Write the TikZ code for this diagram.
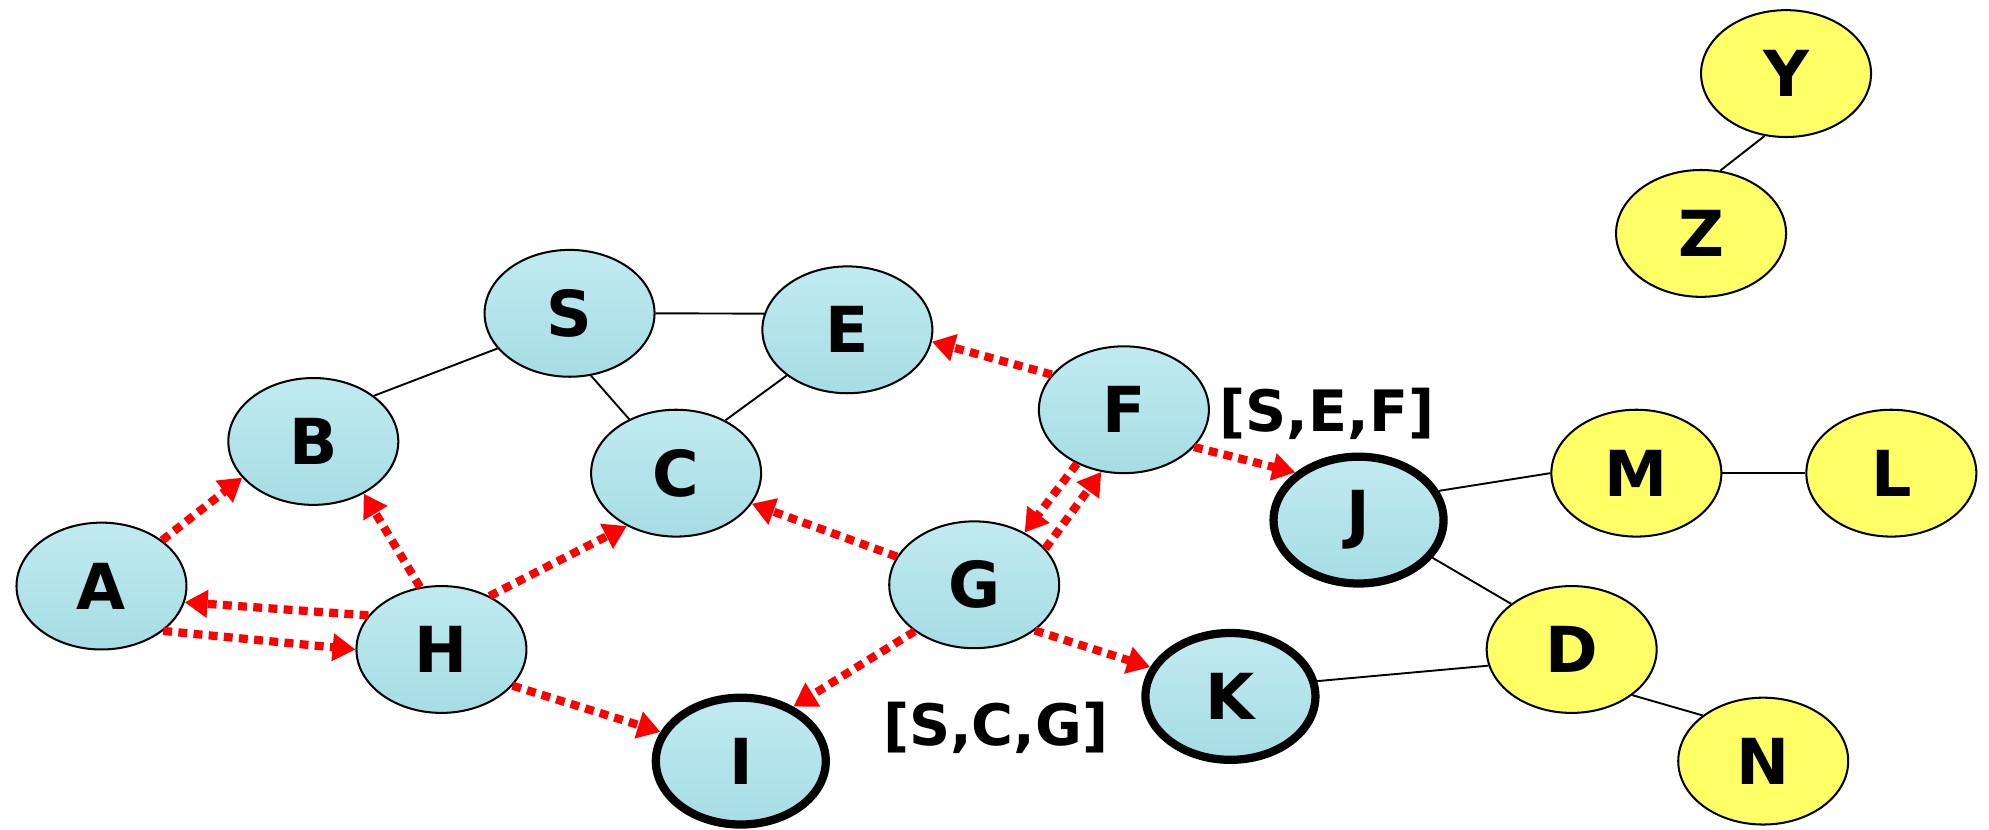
\documentclass[tikz,border=0pt]{standalone}
\usepackage{fontspec}
\setmainfont{DejaVu Sans}
\usetikzlibrary{shapes.geometric,arrows.meta}
\definecolor{bluetop}{RGB}{192,235,240}
\definecolor{bluebot}{RGB}{166,220,228}
\definecolor{yel}{RGB}{255,255,102}
\definecolor{arrred}{RGB}{255,0,0}
\tikzset{
  vtx/.style={ellipse,draw=black,line width=1.6pt,minimum width=134pt,minimum height=100pt,inner sep=0pt,
    top color=bluetop,bottom color=bluebot,font=\fontsize{50}{50}\selectfont\bfseries},
  goal/.style={vtx,line width=6.5pt},
  yvtx/.style={ellipse,draw=black,line width=1.6pt,minimum width=134pt,minimum height=100pt,inner sep=0pt,
    fill=yel,font=\fontsize{50}{50}\selectfont\bfseries},
  edge/.style={draw=black,line width=1.5pt},
  search/.style={draw=arrred,line width=6.5pt,dash pattern=on 7pt off 5pt,
    -{Triangle[length=18pt,width=21pt]}},
  pathlabel/.style={font=\fontsize{45}{45}\selectfont\bfseries,inner sep=0pt}
}
\begin{document}
\begin{tikzpicture}[x=1pt,y=-1pt]
\useasboundingbox (0,0) rectangle (1568,654.3);
% nodes
\node[vtx] (A) at (80,462) {A};
\node[vtx] (B) at (247,348) {B};
\node[vtx] (S) at (449,247) {S};
\node[vtx] (E) at (668,260) {E};
\node[vtx] (C) at (533,373) {C};
\node[vtx] (F) at (886,323) {F};
\node[vtx] (G) at (768,461) {G};
\node[vtx] (H) at (348,512) {H};
\node[goal] (I) at (584,600) {I};
\node[goal] (K) at (970,549) {K};
\node[goal] (J) at (1071,410) {J};
\node[yvtx] (M) at (1290,373) {M};
\node[yvtx] (L) at (1491,373) {L};
\node[yvtx] (D) at (1239,512) {D};
\node[yvtx] (N) at (1390,600) {N};
\node[yvtx] (Y) at (1408,58) {Y};
\node[yvtx] (Z) at (1341,184) {Z};
% labels
\node[pathlabel] (lsef) at (1046,326) {[S,E,F]};
\node[pathlabel] (lscg) at (785,574) {[S,C,G]};
% black edges
\draw[edge] (B.37) -- (S.206);
\draw[edge] (S.0) -- (E.169);
\draw[edge] (S.-71) -- (C.131);
\draw[edge] (E.217) -- (C.47);
\draw[edge] (J.20) -- (M.180);
\draw[edge] (M.0) -- (L.180);
\draw[edge] (J.-27) -- (D.143);
\draw[edge] (K.10) -- (D.191);
\draw[edge] (D.-37) -- (N.143);
\draw[edge] (Y.251) -- (Z.73);
% search arrows
\draw[search] (A.37) -- (B.207);
\draw[search] (H.109) -- (B.-46);
\draw[search] (H.155) -- (A.-11);
\draw[search] (A.-36) -- (H.180);
\draw[search] (H.48) -- (C.227);
\draw[search] (H.-27) -- (I.160);
\draw[search] (G.160) -- (C.-22);
\draw[search] (G.218) -- (I.46);
\draw[search] (G.-37) -- (K.160);
\draw[search] (F.154) -- (E.-8);
\draw[search] (F.229) -- (G.46);
\draw[search] (G.27) -- (F.250);
\draw[search] (F.-28) -- (J.143);
\end{tikzpicture}
\end{document}
